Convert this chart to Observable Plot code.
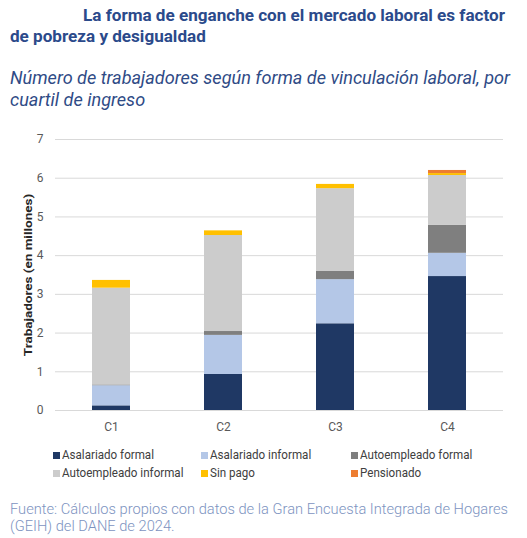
<!DOCTYPE html>
<html>
<head>
<meta charset="utf-8">
<script src="https://cdn.jsdelivr.net/npm/d3@7"></script>
<script src="https://cdn.jsdelivr.net/npm/@observablehq/plot@0.6"></script>
<style>
  html, body { margin: 0; padding: 0; background: #ffffff; }
  #page { position: relative; width: 527px; height: 538px; overflow: hidden; font-family: Roboto, "Noto Sans", sans-serif; }
  .t { position: absolute; white-space: nowrap; transform-origin: 0 0; display: inline-block; }
  .title { font-weight: bold; font-size: 16.6px; color: #2b4a8b; line-height: 1; }
  .sub { font-style: italic; font-size: 18.4px; color: #2f4b86; line-height: 1; }
  .cap { font-size: 15.5px; color: #7d93bf; font-weight: 300; line-height: 1; }
  #chart { position: absolute; left: 0; top: 125px; }
  .leg { position: absolute; font-size: 13px; color: #404040; white-space: nowrap; line-height: 1; }
  .leg .lt { display: inline-block; transform-origin: 0 0; }
  .sw { display: inline-block; width: 7px; height: 7px; margin-right: 2px; }
</style>
</head>
<body>
<div id="page">
  <div id="t1" class="t title" style="left:83px; top:7.5px;">La forma de enganche con el mercado laboral es factor</div>
  <div id="t2" class="t title" style="left:10px; top:29px;">de pobreza y desigualdad</div>
  <div id="s1" class="t sub" style="left:10px; top:68.5px;">Número de trabajadores según forma de vinculación laboral, por</div>
  <div id="s2" class="t sub" style="left:10px; top:90.5px;">cuartil de ingreso</div>
  <div id="chart"></div>
  <div id="legend"></div>
  <div id="c1" class="t cap" style="left:10px; top:502px;">Fuente: Cálculos propios con datos de la Gran Encuesta Integrada de Hogares</div>
  <div id="c2" class="t cap" style="left:10px; top:518.5px;">(GEIH) del DANE de 2024.</div>
</div>
<script>
const categories = ["C1", "C2", "C3", "C4"];
const series = ["Asalariado formal", "Asalariado informal", "Autoempleado formal", "Autoempleado informal", "Sin pago", "Pensionado"];
const colors = ["#1f3864", "#b4c7e7", "#7f7f7f", "#cccccc", "#ffc000", "#ed7d31"];
const asalariadoFormal = [0.12, 0.93, 2.24, 3.46];
const asalariadoInformal = [0.52, 1.01, 1.14, 0.60];
const autoempleadoFormal = [0.02, 0.10, 0.22, 0.72];
const autoempleadoInformal = [2.50, 2.48, 2.13, 1.29];
const sinPago = [0.20, 0.12, 0.11, 0.05];
const pensionado = [0.00, 0.00, 0.00, 0.08];
const yTicks = [0, 1, 2, 3, 4, 5, 6, 7];

const seriesValues = [asalariadoFormal, asalariadoInformal, autoempleadoFormal, autoempleadoInformal, sinPago, pensionado];
const rows = [];
series.forEach((s, i) => categories.forEach((c, j) => rows.push({cuartil: c, serie: s, valor: seriesValues[i][j]})));

const chart = Plot.plot({
  width: 527,
  height: 315,
  marginTop: 14,
  marginBottom: 30,
  marginLeft: 55,
  marginRight: 24,
  style: {background: "transparent", fontFamily: "Roboto, sans-serif", fontSize: "12px", color: "#595959"},
  x: {domain: categories, paddingInner: 0.665, paddingOuter: 0.3325, label: null},
  y: {domain: [0, 7], label: null},
  color: {domain: series, range: colors},
  marks: [
    Plot.ruleY(yTicks, {stroke: "#d9d9d9", strokeWidth: 1}),
    Plot.barY(rows, Plot.stackY({x: "cuartil", y: "valor", fill: "serie", z: "serie"})),
    Plot.axisY(yTicks, {tickSize: 0, tickPadding: 12, label: null, fontSize: 12, fill: "#595959"}),
    Plot.axisX({tickSize: 0, tickPadding: 12, label: null, fontSize: 12, fill: "#595959"}),
    Plot.text(["Trabajadores (en millones)"], {frameAnchor: "left", dx: -27, rotate: -90, textAnchor: "middle", fontWeight: "bold", fontSize: 13.5, fill: "#262626", className: "ylab"})
  ]
});
document.getElementById("chart").appendChild(chart);

// compress the rotated y label glyphs horizontally like the reference
chart.querySelectorAll("g.ylab text").forEach(t => {
  const tr = t.getAttribute("transform") || "";
  t.setAttribute("transform", tr + " scale(1,0.85)");
});

// fit text lines to the reference widths by horizontal scaling
function fit(id, target) {
  const el = document.getElementById(id);
  const w = el.getBoundingClientRect().width;
  const s = target / w;
  el.style.transform = `scaleX(${s})`;
  return s;
}
function scaleTo(id, s) { document.getElementById(id).style.transform = `scaleX(${s})`; }
const st = fit("t1", 422); scaleTo("t2", st);
const ss = fit("s1", 500); scaleTo("s2", ss);
const sc = fit("c1", 498); scaleTo("c2", sc);

// Legend built from the series and colour arrays
const legendPos = [[53, 447.5], [201, 447.5], [351, 447.5], [53, 465.5], [201, 465.5], [351, 465.5]];
const legend = document.getElementById("legend");
const spans = [];
series.forEach((s, i) => {
  const d = document.createElement("div");
  d.className = "leg";
  d.style.left = legendPos[i][0] + "px";
  d.style.top = legendPos[i][1] + "px";
  d.innerHTML = `<span class="sw" style="background:${colors[i]}"></span><span class="lt">${s}</span>`;
  legend.appendChild(d);
  spans.push(d.querySelector(".lt"));
});
const ls = 92 / spans[0].getBoundingClientRect().width;
spans.forEach(sp => sp.style.transform = `scaleX(${ls})`);
</script>
</body>
</html>
